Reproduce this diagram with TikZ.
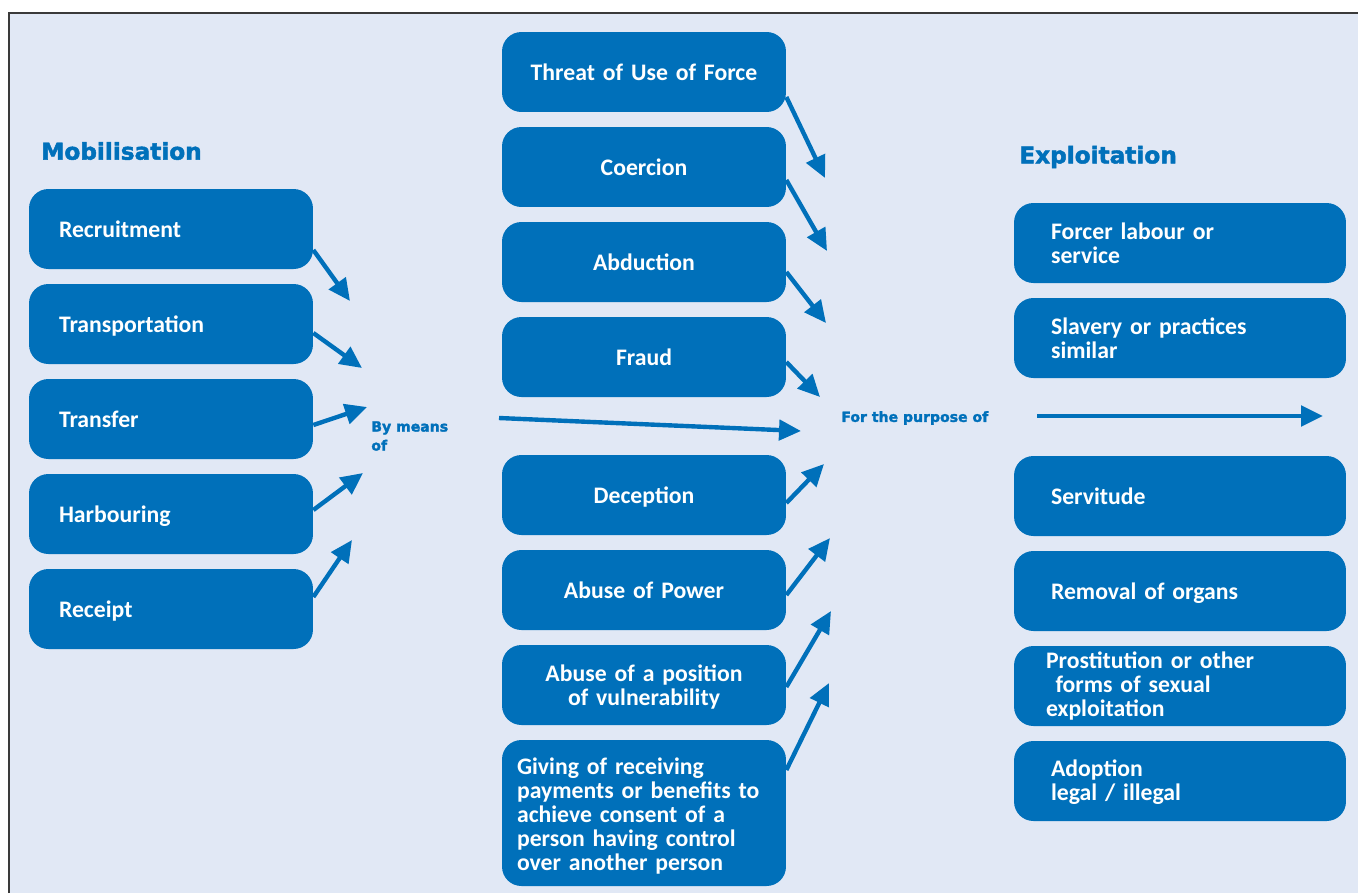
\documentclass[tikz,border=0pt]{standalone}
\usepackage{fontspec}
\setmainfont{Carlito}
\newfontfamily\headfont{DejaVu Sans}[BoldFeatures={FakeBold=2}]
\usepackage{tikz}
\usetikzlibrary{arrows.meta,calc}
\definecolor{TrBlue}{HTML}{0070BA}
\definecolor{TrBack}{HTML}{E1E8F5}
\definecolor{TrFrame}{HTML}{3A3A3A}

\tikzset{
  tbox/.style={fill=TrBlue, rounded corners=11pt, minimum height=1.6cm, inner sep=0pt,
    text=white, font=\bfseries\fontsize{13.5}{13.6}\selectfont},
  one/.style={text height=12.5pt, text depth=2.7pt},
  lbox/.style={tbox, one, minimum width=5.68cm, text width=4.48cm, align=left},
  mbox/.style={tbox, minimum width=5.68cm, text width=5.08cm, align=center},
  rbox/.style={tbox, minimum width=6.64cm, text width=5.16cm, align=left},
  head/.style={anchor=west, inner sep=0pt, text=TrBlue, font=\headfont\bfseries\fontsize{13.2}{16}\selectfont},
  link/.style={anchor=west, inner sep=0pt, text=TrBlue, align=left, font=\headfont\bfseries\fontsize{8}{10.8}\selectfont},
  arr/.style={draw=TrBlue, line width=2.5pt, -{Triangle[length=12.5pt,width=11.5pt]}}
}

\begin{document}
\begin{tikzpicture}[x=0.02cm,y=-0.02cm]
\useasboundingbox (0,0) rectangle (1358,893);
\fill[TrBack] (9,13) rectangle (1358,893);
\draw[TrFrame, line width=1.2pt] (9,893) -- (9,13) -- (1358,13);

% headings and link texts
\node[head] (mob) at (41,151) {Mobilisation};
\node[head] (expl) at (1019,157) {Exploitation};
\node[link] (bymeans) at (371,436) {By means\\of};
\node[link] (purpose) at (841,418) {For the purpose of};

% mobilisation
\node[lbox] (rec)  at (171,229) {Recruitment};
\node[lbox] (tra)  at (171,324) {Transportation};
\node[lbox] (trf)  at (171,419) {Transfer};
\node[lbox] (har)  at (171,514) {Harbouring};
\node[lbox] (recp) at (171,609) {Receipt};

% means
\node[mbox, one] (thr) at (644,72)  {Threat of Use of Force};
\node[mbox, one] (coe) at (644,167) {Coercion};
\node[mbox, one] (abd) at (644,262) {Abduction};
\node[mbox, one] (frd) at (644,357) {Fraud};
\node[mbox, one] (dec) at (644,495) {Deception};
\node[mbox, one] (pow) at (644,590) {Abuse of Power};
\node[mbox] (vul) at (644,685) {\rule{0pt}{12pt}Abuse of a position\\of vulnerability};
\node[tbox, minimum width=5.68cm, minimum height=2.92cm, text width=5.08cm, align=left]
  (giv) at (644,813) {\rule{0pt}{13pt}Giving of receiving\\payments or benefits to\\achieve consent of a\\person having control\\over another person};

% exploitation
\node[rbox] (flab) at (1180,243) {Forcer labour or\\service};
\node[rbox] (slav) at (1180,338) {Slavery or practices\\similar};
\node[rbox, one] (serv) at (1180,496) {Servitude};
\node[rbox, one] (org)  at (1180,591) {Removal of organs};
\node[rbox, text width=5.36cm] (prost) at (1180,686) {Prostitution or other\\\hspace*{0.4em}forms of sexual\\exploitation};
\node[rbox] (adop) at (1180,781) {\rule{0pt}{11pt}Adoption\\legal / illegal};

% arrow ends
\coordinate (recT) at (350,301);
\coordinate (traT) at (362,368);
\coordinate (trfT) at (367,407);
\coordinate (harT) at (363,473);
\coordinate (recpT) at (352,540);
\coordinate (thrT) at (825,178);
\coordinate (coeT) at (827,251);
\coordinate (abdT) at (826,323);
\coordinate (frdT) at (820,397);
\coordinate (decT) at (824,464);
\coordinate (powT) at (830,538);
\coordinate (vulT) at (831,611);
\coordinate (givT) at (829,683);
\coordinate (meanS) at (499,418);
\coordinate (meanT) at (801,431);
\coordinate (purpS) at (1037,416);
\coordinate (purpT) at (1323,416);

\draw[arr] ($(rec.east)+(0,21)$) -- (recT);
\draw[arr] ($(tra.east)+(0,9)$) -- (traT);
\draw[arr] ($(trf.east)+(0,6)$) -- (trfT);
\draw[arr] ($(har.east)+(0,-4)$) -- (harT);
\draw[arr] ($(recp.east)+(0,-12)$) -- (recpT);
\draw[arr] ($(thr.east)+(0,25)$) -- (thrT);
\draw[arr] ($(coe.east)+(0,13)$) -- (coeT);
\draw[arr] ($(abd.east)+(0,10)$) -- (abdT);
\draw[arr] ($(frd.east)+(0,5)$) -- (frdT);
\draw[arr] ($(dec.east)+(0,8)$) -- (decT);
\draw[arr] ($(pow.east)+(0,5)$) -- (powT);
\draw[arr] ($(vul.east)+(0,2)$) -- (vulT);
\draw[arr] ($(giv.east)+(0,-43)$) -- (givT);
\draw[arr] (meanS) -- (meanT);
\draw[arr] (purpS) -- (purpT);
\end{tikzpicture}
\end{document}
